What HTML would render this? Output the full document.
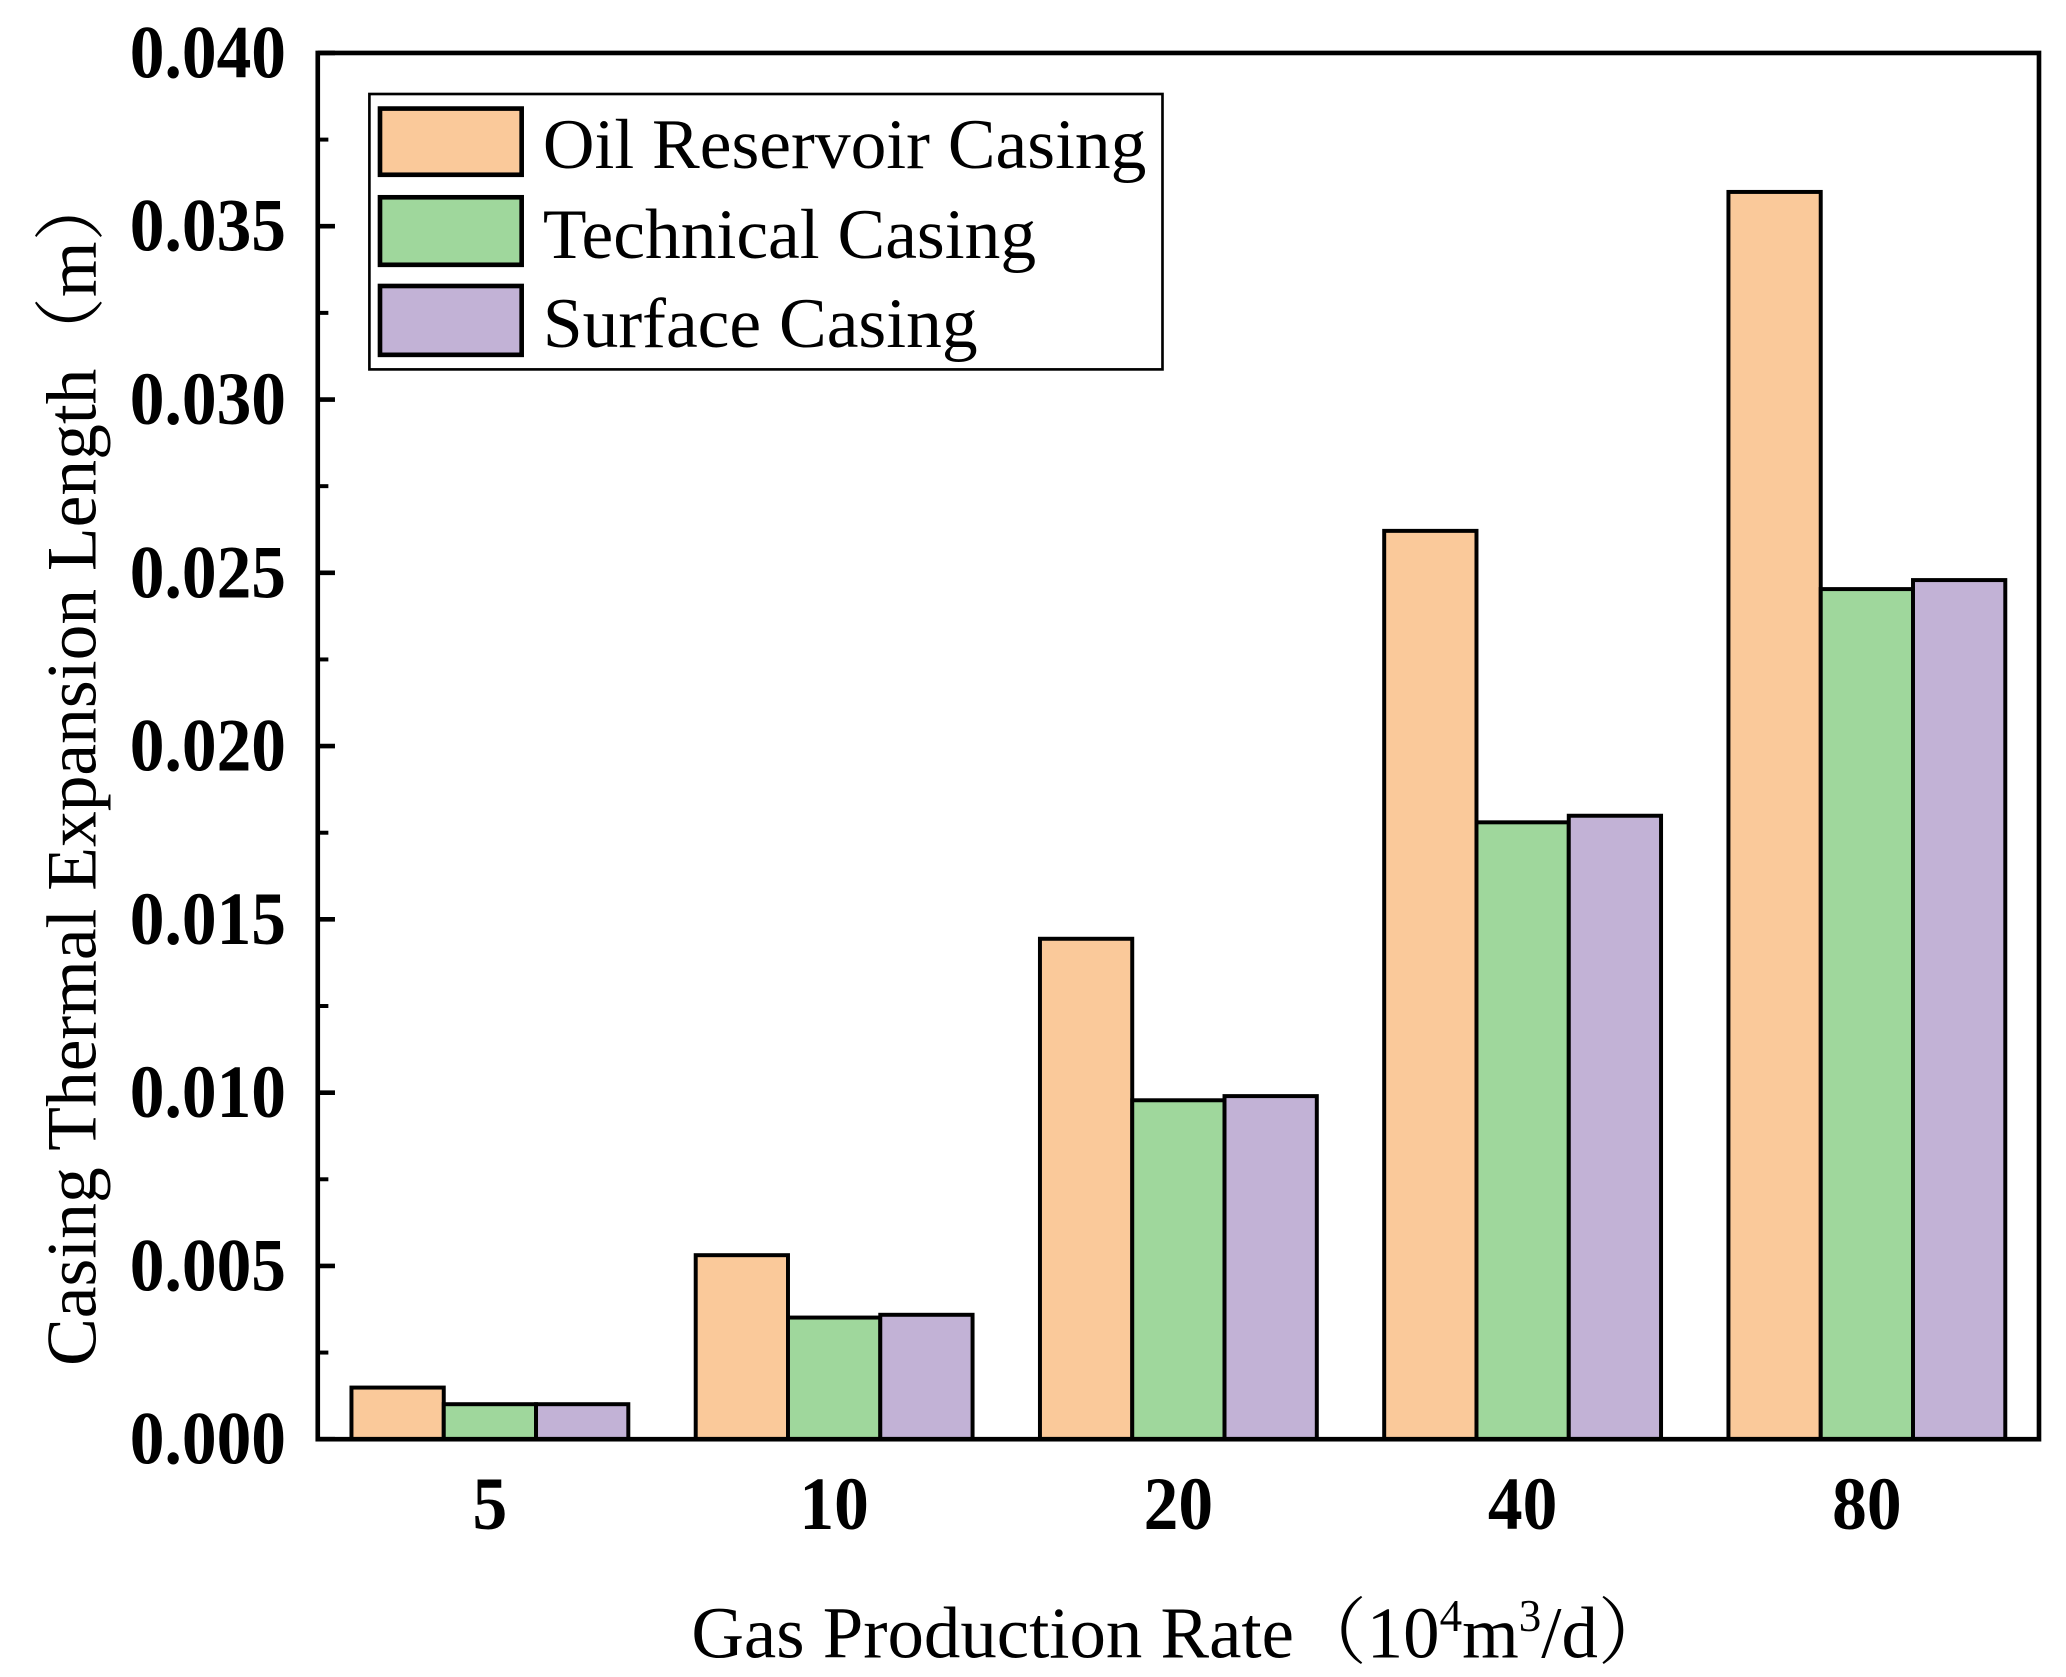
<!DOCTYPE html>
<html><head><meta charset="utf-8"><style>
html,body{margin:0;padding:0;background:#fff;}
svg{display:block;}
text{font-family:"Liberation Serif","Noto Serif CJK SC",serif;fill:#000;}
</style></head><body>
<svg id="chart" width="2066" height="1677" viewBox="0 0 1560.4 1266.6" xmlns="http://www.w3.org/2000/svg">
<g id="bars"></g>
<g id="axes"></g>
<g>
<rect x="279" y="71" width="599" height="208" fill="#fff" stroke="#000" stroke-width="2"/>
<rect x="287" y="82" width="107" height="50" fill="#FAC99A" stroke="#000" stroke-width="3.5"/>
<text x="410" y="127" font-size="54">Oil Reservoir Casing</text>
<rect x="287" y="149" width="107" height="51" fill="#9FD79C" stroke="#000" stroke-width="3.5"/>
<text x="410" y="195" font-size="54">Technical Casing</text>
<rect x="287" y="216" width="107" height="52" fill="#C2B2D6" stroke="#000" stroke-width="3.5"/>
<text x="410" y="262" font-size="54">Surface Casing</text>
</g>
<text x="892" y="1252" font-size="55" text-anchor="middle">Gas Production Rate（10<tspan font-size="34" dy="-20">4</tspan><tspan dy="20">m</tspan><tspan font-size="34" dy="-20">3</tspan><tspan dy="20">/d）</tspan></text>
<text transform="translate(72,580) rotate(-90)" font-size="54" text-anchor="middle">Casing Thermal Expansion Length（m）</text>
</svg>
<script>
const categories = ["5","10","20","40","80"];
const oilValues = [0.00149,0.00531,0.01444,0.02621,0.03599];
const technicalValues = [0.00101,0.00351,0.00978,0.0178,0.02453];
const surfaceValues = [0.00101,0.00359,0.0099,0.01799,0.02479];
const yTickLabels = ["0.000","0.005","0.010","0.015","0.020","0.025","0.030","0.035","0.040"];
const yTickValues = [0,0.005,0.01,0.015,0.02,0.025,0.03,0.035,0.04];

const NS="http://www.w3.org/2000/svg";
const L=240,R=1540,T=40,B=1087,YMAX=0.04;
const y=v=>B-(v/YMAX)*(B-T);
const band=(R-L)/categories.length;
const xc=i=>L+band*(i+0.5);
const bw=69.7;
const series=[{vals:oilValues,fill:"#FAC99A",n:"oil"},{vals:technicalValues,fill:"#9FD79C",n:"technical"},{vals:surfaceValues,fill:"#C2B2D6",n:"surface"}];
const bars=document.getElementById('bars');
function mk(tag,attrs,parent){const e=document.createElementNS(NS,tag);for(const k in attrs)e.setAttribute(k,attrs[k]);parent.appendChild(e);return e;}
categories.forEach((c,i)=>{
  series.forEach((s,j)=>{
    const x0=xc(i)-1.5*bw+j*bw;
    const r=mk('rect',{x:x0,y:y(s.vals[i]),width:bw,height:B-y(s.vals[i]),fill:s.fill,stroke:'#000','stroke-width':3},bars);
    
    
  });
});
const axes=document.getElementById('axes');
const fr=mk('rect',{x:L,y:T,width:R-L,height:B-T,fill:'none',stroke:'#000','stroke-width':3.5},axes);


yTickValues.forEach((v,i)=>{
  const t=mk('line',{x1:L,x2:L+13,y1:y(v),y2:y(v),stroke:'#000','stroke-width':3.5},axes);
  
  
  if(i<yTickValues.length-1){
    const m=mk('line',{x1:L,x2:L+8,y1:y(v+0.0025),y2:y(v+0.0025),stroke:'#000','stroke-width':3},axes);
    
    
  }
  const tx=mk('text',{x:0,y:0,'font-size':57,'font-weight':'bold','text-anchor':'end',transform:'translate(216,'+(y(v)+18.5)+') scale(0.92,1)'},axes);
  tx.textContent=yTickLabels[i];
  
  
});
categories.forEach((c,i)=>{
  const tx=mk('text',{x:0,y:0,'font-size':57,'font-weight':'bold','text-anchor':'middle',transform:'translate('+xc(i)+',1155) scale(0.92,1)'},axes);
  tx.textContent=c;
  
  
});
</script>
</body></html>
